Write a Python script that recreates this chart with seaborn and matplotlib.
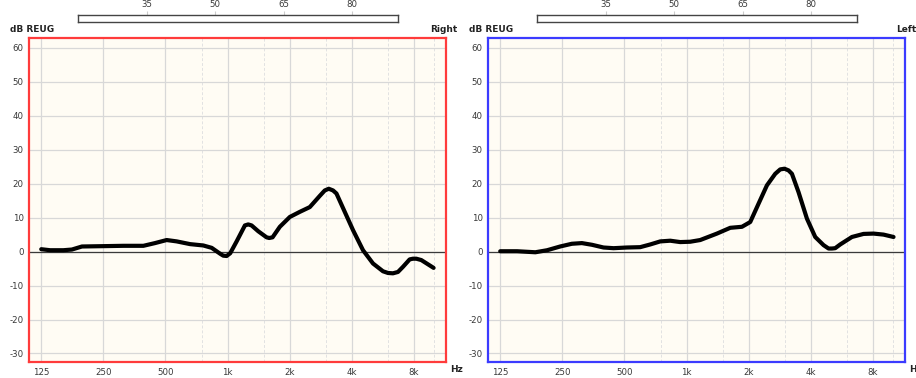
import numpy as np
import pandas as pd
import matplotlib
matplotlib.use("Agg")
import matplotlib.pyplot as plt
import seaborn as sns

# REUG curves (Hz, dB)
right_freq = [125, 138, 160, 176, 197, 250, 313, 391, 445, 507, 567, 658, 763, 838,
              919, 953, 990, 1030, 1107, 1214, 1260, 1308, 1408, 1546, 1592, 1653,
              1793, 2005, 2241, 2505, 2800, 2961, 3096, 3247, 3373, 3700, 4059, 4537,
              5071, 5670, 5996, 6337, 6702, 7084, 7636, 7920, 8228, 8697, 9975]
right_db = [0.7, 0.4, 0.4, 0.6, 1.5, 1.6, 1.7, 1.7, 2.5, 3.4, 3.0, 2.2, 1.8, 1.1,
            -0.6, -1.2, -1.3, -0.5, 3.0, 7.7, 8.0, 7.7, 6.0, 4.2, 4.0, 4.2,
            7.3, 10.2, 11.7, 13.1, 16.4, 18.0, 18.5, 18.0, 17.1, 11.7, 6.3, 0.4,
            -3.5, -5.8, -6.3, -6.4, -6.0, -4.5, -2.3, -2.1, -2.1, -2.5, -4.8]

left_freq = [125, 151, 185, 211, 244, 278, 311, 348, 396, 443, 514, 596, 667, 746,
             834, 932, 1042, 1165, 1404, 1629, 1856, 2036, 2234, 2453, 2691, 2845,
             2985, 3123, 3243, 3491, 3834, 4206, 4615, 4880, 5068, 5256, 5559, 6335,
             7210, 8062, 9015, 10079]
left_db = [0.1, 0.1, -0.2, 0.4, 1.5, 2.3, 2.5, 2.0, 1.2, 1.0, 1.2, 1.3, 2.1, 3.0,
           3.2, 2.8, 2.9, 3.4, 5.3, 7.0, 7.3, 8.7, 14.1, 19.5, 22.9, 24.2,
           24.4, 23.9, 22.9, 17.5, 9.7, 4.3, 1.9, 0.9, 0.9, 1.0, 2.1, 4.3,
           5.2, 5.3, 5.0, 4.3]

x_ticks = [125, 250, 500, 1000, 2000, 4000, 8000]
x_labels = ["125", "250", "500", "1k", "2k", "4k", "8k"]
x_minor = [750, 1500, 3000, 6000, 10000]
y_ticks = [60, 50, 40, 30, 20, 10, 0, -10, -20, -30]

meter_ticks = [35, 50, 65, 80]
meter_value = 20.3

sns.set_style("white")
plt.rcParams['font.family'] = ['DejaVu Sans']
plt.rcParams['axes.unicode_minus'] = False

fig = plt.figure(figsize=(9.16, 3.78), dpi=100)
W, H = 916, 378


def box(x0, y0, x1, y1):
    # pixel box (top-left origin) -> figure fraction rect
    return [x0 / W, 1 - y1 / H, (x1 - x0) / W, (y1 - y0) / H]


panels = [
    dict(freq=right_freq, db=right_db, side="Right", color="#ff3b3b", x0=0),
    dict(freq=left_freq, db=left_db, side="Left", color="#3b3bff", x0=459),
]

for p in panels:
    off = p["x0"]
    ax = fig.add_axes(box(29.2 + off, 38.3, 445.8 + off, 362.3))
    ax.set_facecolor("#fffcf4")
    ax.set_xscale("log", base=2)
    ax.set_xlim(109.3, 11430)
    ax.set_ylim(-32.6, 62.8)

    ax.set_xticks(x_ticks)
    ax.set_xticklabels(x_labels)
    ax.set_xticks(x_minor, minor=True)
    ax.set_yticks(y_ticks)
    ax.tick_params(axis="both", which="both", length=0, labelsize=6.2,
                   labelcolor="#383838", pad=4)
    ax.tick_params(axis="x", which="minor", labelbottom=False)

    ax.grid(True, which="major", color="#d8d8d8", lw=0.9)
    ax.grid(True, which="minor", axis="x", color="#e2e2e2", lw=0.7, ls=(0, (3, 2)))
    ax.axhline(0, color="#3a3a3a", lw=0.9, zorder=2)

    sns.lineplot(x=p["freq"], y=p["db"], ax=ax, color="black", lw=3, zorder=3,
                 solid_joinstyle="round", solid_capstyle="round")

    for s in ax.spines.values():
        s.set_color(p["color"])
        s.set_linewidth(1.6)

    fig.text((10 + off) / W, 1 - 30 / H, "dB REUG", fontsize=6.5,
             fontweight="bold", color="#222222", va="center", ha="left")
    fig.text((457 + off) / W, 1 - 30 / H, p["side"], fontsize=6.5,
             fontweight="bold", color="#222222", va="center", ha="right")
    fig.text((450 + off) / W, 1 - 370 / H, "Hz", fontsize=6.5,
             fontweight="bold", color="#222222", va="center", ha="left")

    # level meter bar on top
    bx = fig.add_axes(box(78 + off, 15, 398 + off, 22))
    bx.set_xlim(20, 90)
    bx.set_ylim(0, 1)
    bx.barh([0.5], [meter_value - 20], left=20, height=1, color="#2e9e2e")
    bx.set_facecolor("white")
    bx.set_yticks([])
    bx.set_xticks(meter_ticks)
    bx.xaxis.tick_top()
    bx.tick_params(axis="x", length=3, color="#cccccc", labelsize=6.2,
                   labelcolor="#383838", pad=1, direction="out")
    for s in bx.spines.values():
        s.set_color("#444444")
        s.set_linewidth(1)

fig.savefig("out.png", dpi=100)
